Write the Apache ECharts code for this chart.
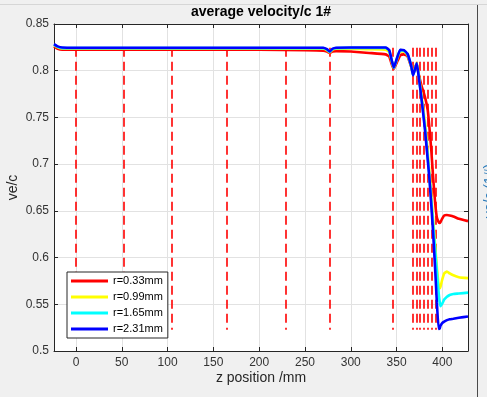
<!DOCTYPE html>
<html>
<head>
<meta charset="utf-8">
<script src="https://cdn.jsdelivr.net/npm/echarts@6/dist/echarts.min.js"></script>
<style>
html,body{margin:0;padding:0;background:#f0f0f0;}
#chart{width:487px;height:397px;}
</style>
</head>
<body>
<div id="chart"></div>
<script>
// ---- data ----
const zPos = [-24, -20, -15, 0, 50, 100, 150, 200, 250, 270, 274, 277, 280, 284, 300, 320, 338, 342, 345, 347, 350, 354, 358, 362, 366, 368, 370, 372, 374, 377, 381, 384, 386, 388, 390, 392, 394, 396, 397, 398, 400, 402, 405, 408, 412, 418, 428];

const vR033 = [0.826, 0.8235, 0.8225, 0.8225, 0.8225, 0.8225, 0.8225, 0.8225, 0.822, 0.8215, 0.8205, 0.819, 0.8205, 0.821, 0.8205, 0.819, 0.8175, 0.815, 0.806, 0.802, 0.808, 0.8165, 0.8175, 0.8155, 0.804, 0.797, 0.803, 0.807, 0.797, 0.785, 0.772, 0.758, 0.738, 0.714, 0.685, 0.66, 0.643, 0.638, 0.637, 0.638, 0.642, 0.645, 0.6455, 0.645, 0.644, 0.6415, 0.639];

const vR099 = [0.8275, 0.825, 0.8237, 0.8237, 0.8237, 0.8237, 0.8237, 0.8237, 0.8235, 0.8235, 0.822, 0.8198, 0.8225, 0.8235, 0.8235, 0.823, 0.8225, 0.82, 0.809, 0.803, 0.811, 0.821, 0.8205, 0.817, 0.805, 0.796, 0.802, 0.8085, 0.797, 0.775, 0.745, 0.713, 0.69, 0.665, 0.64, 0.615, 0.59, 0.57, 0.567, 0.569, 0.577, 0.583, 0.585, 0.583, 0.581, 0.579, 0.578];

const vR165 = [0.828, 0.8255, 0.8242, 0.8242, 0.8242, 0.8242, 0.8242, 0.8242, 0.8242, 0.8242, 0.8226, 0.8202, 0.823, 0.8242, 0.8244, 0.8244, 0.8244, 0.8215, 0.8095, 0.803, 0.8115, 0.822, 0.8215, 0.8175, 0.805, 0.7955, 0.8015, 0.808, 0.796, 0.772, 0.74, 0.708, 0.685, 0.66, 0.635, 0.61, 0.585, 0.562, 0.553, 0.548, 0.551, 0.555, 0.558, 0.56, 0.561, 0.5615, 0.5625];

const vR231 = [0.8285, 0.826, 0.8248, 0.8246, 0.8246, 0.8246, 0.8246, 0.8246, 0.8246, 0.8246, 0.823, 0.8205, 0.8235, 0.8246, 0.8248, 0.8248, 0.8248, 0.822, 0.81, 0.8035, 0.812, 0.8225, 0.822, 0.818, 0.805, 0.795, 0.801, 0.808, 0.795, 0.772, 0.737, 0.705, 0.683, 0.655, 0.625, 0.59, 0.552, 0.5235, 0.524, 0.527, 0.53, 0.5315, 0.533, 0.534, 0.5345, 0.5355, 0.537];

const seriesNames = ['r=0.33mm', 'r=0.99mm', 'r=1.65mm', 'r=2.31mm'];
const seriesColors = ['#ff0000', '#ffff00', '#00ffff', '#0000ff'];
const seriesValues = [vR033, vR099, vR165, vR231];

const dashZ = [0, 52.5, 104.8, 164.8, 228.5, 276.8, 346.2, 367.5, 371.6, 375.8, 380, 384.1, 388.2, 392.3];
const dashRange = [0.8245, 0.5228];

const xTickLabels = [0, 50, 100, 150, 200, 250, 300, 350, 400];
const yTickLabels = [0.5, 0.55, 0.6, 0.65, 0.7, 0.75, 0.8, 0.85];

// ---- chart ----
const chart = echarts.init(document.getElementById('chart'), null, {renderer: 'canvas'});
const FONT = '"Liberation Sans", Arial, Helvetica, sans-serif';
const AX = '#262626';

const lineSeries = seriesNames.map((name, i) => ({
  name: name,
  type: 'line',
  data: zPos.map((z, k) => [z, seriesValues[i][k]]),
  symbol: 'none',
  smooth: 0.15,
  lineStyle: {color: seriesColors[i], width: 2.6},
  itemStyle: {color: seriesColors[i]},
  z: 3 + i,
  silent: true
}));

const dashSeries = {
  name: 'dash',
  type: 'line',
  data: [],
  symbol: 'none',
  silent: true,
  z: 1,
  markLine: {
    silent: true,
    z: 1,
    symbol: ['none', 'none'],
    animation: false,
    label: {show: false},
    lineStyle: {color: '#ff0000', width: 1.6, type: [9, 5]},
    emphasis: {disabled: true},
    data: dashZ.map(z => [{coord: [z, dashRange[0]]}, {coord: [z, dashRange[1]]}])
  }
};

const xFmt = v => (xTickLabels.indexOf(Math.round(v)) >= 0 && Math.abs(v - Math.round(v)) < 1e-6) ? String(Math.round(v)) : '';
const yFmt = v => {
  const f = yTickLabels.find(t => Math.abs(t - v) < 1e-6);
  return f === undefined ? '' : String(f);
};

chart.setOption({
  animation: false,
  backgroundColor: '#f0f0f0',
  grid: {left: 54, right: 19, top: 24, bottom: 46, show: true, backgroundColor: '#ffffff', borderWidth: 0, containLabel: false},
  xAxis: [{
    type: 'value', min: -24, max: 428, splitNumber: 9, position: 'bottom',
    axisLine: {show: true, onZero: false, lineStyle: {color: AX, width: 1}},
    axisTick: {show: true, inside: true, length: 4, lineStyle: {color: AX}},
    axisLabel: {color: '#333333', fontSize: 12, fontFamily: FONT, margin: 6, formatter: xFmt},
    splitLine: {show: true, lineStyle: {color: '#e2e2e2', width: 1}}
  }, {
    type: 'value', min: -24, max: 428, splitNumber: 9, position: 'top',
    axisLine: {show: true, onZero: false, lineStyle: {color: AX, width: 1}},
    axisTick: {show: true, inside: true, length: 4, lineStyle: {color: AX}},
    axisLabel: {show: false},
    splitLine: {show: false}
  }],
  yAxis: [{
    type: 'value', min: 0.5, max: 0.85, interval: 0.05, position: 'left',
    axisLine: {show: true, onZero: false, lineStyle: {color: AX, width: 1}},
    axisTick: {show: true, inside: true, length: 4, lineStyle: {color: AX}},
    axisLabel: {color: '#333333', fontSize: 12, fontFamily: FONT, margin: 5, formatter: yFmt},
    splitLine: {show: true, lineStyle: {color: '#e2e2e2', width: 1}}
  }, {
    type: 'value', min: 0.5, max: 0.85, interval: 0.05, position: 'right',
    axisLine: {show: true, onZero: false, lineStyle: {color: AX, width: 1}},
    axisTick: {show: true, inside: true, length: 4, lineStyle: {color: AX}},
    axisLabel: {show: false},
    splitLine: {show: false}
  }],
  legend: {
    show: true,
    z: 20,
    data: seriesNames.map(n => ({name: n, icon: 'rect'})),
    orient: 'vertical',
    left: 67, top: 272,
    padding: [3, 5, 3, 4],
    itemWidth: 37, itemHeight: 3, itemGap: 4,
    backgroundColor: '#ffffff',
    borderColor: AX, borderWidth: 1, borderRadius: 0,
    textStyle: {color: '#000000', fontSize: 11, fontFamily: FONT, lineHeight: 12},
    selectedMode: false
  },
  graphic: [
    {type: 'line', shape: {x1: 0, y1: 4.5, x2: 487, y2: 4.5}, style: {stroke: '#d6d6d6', lineWidth: 1}, silent: true},
    {type: 'line', shape: {x1: 477.5, y1: 5, x2: 477.5, y2: 397}, style: {stroke: '#4a4a4a', lineWidth: 1}, silent: true},
    {type: 'text', x: 261, y: 12, style: {text: 'average velocity/c 1#', font: 'bold 14px ' + FONT, fill: '#000000', textAlign: 'center', textVerticalAlign: 'middle'}, silent: true},
    {type: 'text', x: 261, y: 378.5, style: {text: 'z position /mm', font: '14px ' + FONT, fill: '#262626', textAlign: 'center', textVerticalAlign: 'middle'}, silent: true},
    {type: 'text', x: 13.5, y: 187.5, rotation: Math.PI / 2, style: {text: 've/c', font: '14px ' + FONT, fill: '#262626', textAlign: 'center', textVerticalAlign: 'middle'}, silent: true},
    {type: 'text', x: 490, y: 191, rotation: Math.PI / 2, style: {text: 've/c (1#)', font: '14px ' + FONT, fill: '#2b7bba', textAlign: 'center', textVerticalAlign: 'middle'}, silent: true}
  ],
  series: [dashSeries].concat(lineSeries)
});
</script>
</body>
</html>
